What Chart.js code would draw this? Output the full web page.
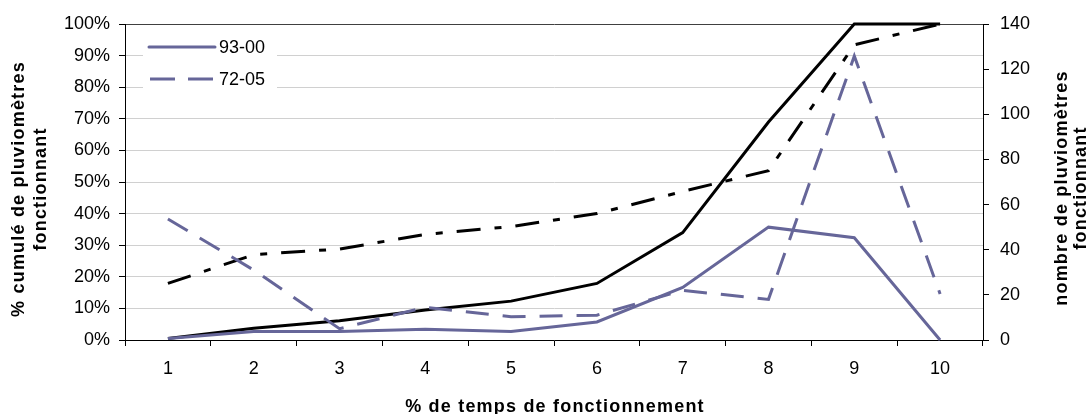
<!DOCTYPE html>
<html>
<head>
<meta charset="utf-8">
<script src="https://cdn.jsdelivr.net/npm/chart.js@4/dist/chart.umd.min.js"></script>
<style>
  html, body { margin: 0; padding: 0; background: #fff; }
  #wrap { width: 1090px; height: 414px; }
</style>
</head>
<body>
<div id="wrap"><canvas id="c" width="1090" height="414"></canvas></div>
<script>
// ---- data ----
const categories = ['1', '2', '3', '4', '5', '6', '7', '8', '9', '10'];
// number of rain gauges (right axis)
const count9300 = [0.7, 3.8, 3.8, 4.8, 3.8, 8, 23.3, 50, 45.3, 0];
const count7205 = [53.6, 31, 5, 14.5, 10.3, 11, 22, 18, 125.8, 20.4];
// cumulative % (left axis)
const cum9300 = [0.5, 3.7, 6.1, 9.5, 12.3, 17.9, 34, 69, 100, 100];
const cum7205 = [17.9, 27, 28.8, 33.4, 35.9, 40, 47, 53.6, 93.4, 100];
const seriesNames = ['93-00', '72-05'];
const xTitle = '% de temps de fonctionnement';
const leftTitle = ['% cumulé de pluviomètres', 'fonctionnant'];
const rightTitle = ['nombre de pluviomètres', 'fonctionnant'];

const FONT = "'Liberation Sans', Arial, sans-serif";
const BLUE = '#666699';

const overlay = {
  id: 'overlay',
  afterDraw(chart) {
    const ctx = chart.ctx;
    const area = chart.chartArea;
    ctx.save();
    // legend box
    ctx.fillStyle = '#fff';
    ctx.fillRect(143, 28, 134, 66);
    const rows = [{y: 47, dash: []}, {y: 79, dash: [25, 13]}];
    rows.forEach((r, i) => {
      ctx.beginPath();
      ctx.strokeStyle = BLUE;
      ctx.lineWidth = 3;
      ctx.lineCap = r.dash.length ? 'butt' : 'round';
      ctx.setLineDash(r.dash);
      ctx.moveTo(r.dash.length ? 150 : 149, r.y);
      ctx.lineTo(r.dash.length ? 213 : 215, r.y);
      ctx.stroke();
      ctx.setLineDash([]);
      ctx.fillStyle = '#000';
      ctx.font = '18px ' + FONT;
      ctx.textAlign = 'left';
      ctx.textBaseline = 'middle';
      ctx.fillText(seriesNames[i], 219, r.y + 1);
    });
    // titles
    ctx.fillStyle = '#000';
    ctx.font = 'bold 18px ' + FONT;
    try { ctx.letterSpacing = '1.2px'; } catch (e) {}
    ctx.textAlign = 'center';
    ctx.textBaseline = 'alphabetic';
    ctx.fillText(xTitle, (area.left + area.right) / 2 + 1, 412);
    ctx.textBaseline = 'middle';
    const drawRot = (lines, xs, yc) => {
      lines.forEach((t, i) => {
        ctx.save();
        ctx.translate(xs[i], yc);
        ctx.rotate(-Math.PI / 2);
        ctx.fillText(t, 0, 0);
        ctx.restore();
      });
    };
    drawRot(leftTitle, [19.5, 41.5], 189);
    drawRot(rightTitle, [1062, 1081], 188);
    ctx.restore();
  }
};

const tickFont = { family: FONT, size: 18 };

new Chart(document.getElementById('c'), {
  type: 'line',
  data: {
    labels: categories,
    datasets: [
      { label: seriesNames[0], data: count9300, yAxisID: 'y1', borderColor: BLUE, borderWidth: 3, pointRadius: 0, tension: 0, clip: 6 },
      { label: seriesNames[1], data: count7205, yAxisID: 'y1', borderColor: BLUE, borderWidth: 3, borderDash: [23, 14], pointRadius: 0, tension: 0, clip: 6 },
      { label: 'cum ' + seriesNames[0], data: cum9300, yAxisID: 'y', borderColor: '#000', borderWidth: 3, pointRadius: 0, tension: 0, clip: 6 },
      { label: 'cum ' + seriesNames[1], data: cum7205, yAxisID: 'y', borderColor: '#000', borderWidth: 3, borderDash: [24, 14, 7, 14], pointRadius: 0, tension: 0, clip: 6 }
    ]
  },
  options: {
    responsive: false,
    animation: false,
    devicePixelRatio: 1,
    layout: { padding: { top: 24, left: 0, right: 0, bottom: 0 } },
    plugins: { legend: { display: false }, tooltip: { enabled: false }, title: { display: false } },
    scales: {
      x: {
        type: 'category',
        offset: true,
        grid: { offset: true, drawOnChartArea: false, drawTicks: true, tickLength: 6, tickColor: '#000', lineWidth: 1 },
        border: { color: '#000', width: 1 },
        ticks: { font: tickFont, color: '#000', padding: 12, maxRotation: 0, autoSkip: false },
        afterFit(s) { s.height = 74; }
      },
      y: {
        position: 'left',
        min: 0, max: 100,
        grid: {
          color: ctx => (ctx.tick && ctx.tick.value === 100) ? '#404040' : '#d0d0d0',
          lineWidth: 1,
          tickLength: 6,
          tickColor: '#000'
        },
        border: { color: '#000', width: 1 },
        ticks: { stepSize: 10, font: tickFont, color: '#000', padding: 9, callback: v => v + '%' },
        afterFit(s) { s.width = 125; }
      },
      y1: {
        position: 'right',
        min: 0, max: 140,
        grid: { drawOnChartArea: false, tickLength: 6, tickColor: '#000' },
        border: { color: '#000', width: 1 },
        ticks: { stepSize: 20, font: tickFont, color: '#000', padding: 11 },
        afterFit(s) { s.width = 107; }
      }
    }
  },
  plugins: [overlay]
});
</script>
</body>
</html>
